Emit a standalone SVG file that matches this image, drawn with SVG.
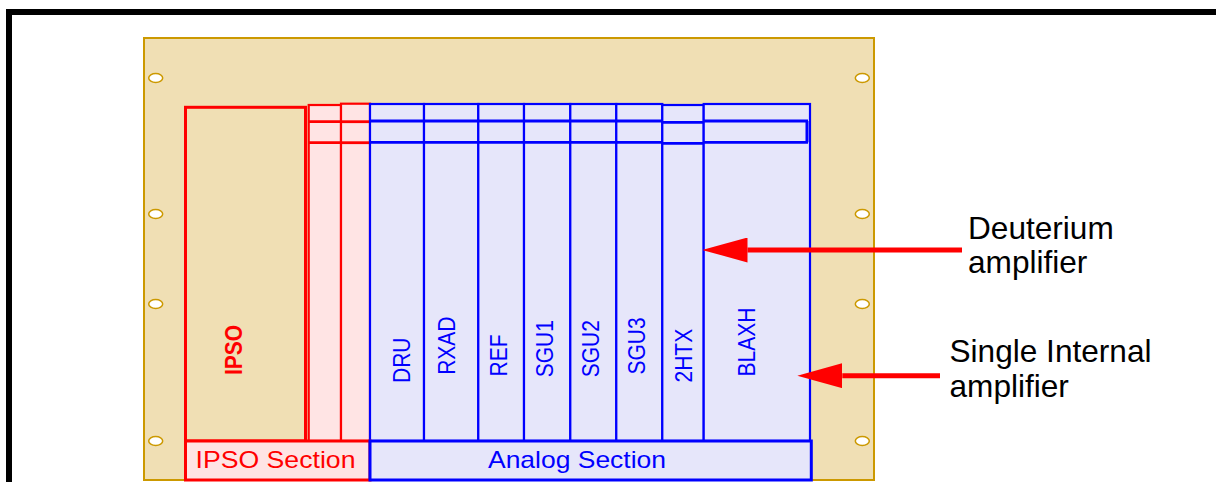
<svg xmlns="http://www.w3.org/2000/svg" width="1216" height="482" viewBox="0 0 1216 482">
<style>
.frame{fill:none;stroke:#000;stroke-width:6}
.panel{fill:#f0dfb4;stroke:#cc9900;stroke-width:2}
.hole{fill:#fff;stroke:#cc9900;stroke-width:1.5}
.rcol{fill:#ffe4e4;stroke:#ff0000;stroke-width:2.2}
.bcol{fill:#e6e6fa;stroke:#0000ff;stroke-width:2.2}
.rrow{stroke:#ff0000;stroke-width:2.8;fill:none}
.brow{stroke:#0000ff;stroke-width:2.8;fill:none}
.vlab{font-family:"Liberation Sans",Arial,sans-serif;font-size:21px;fill:#0000ff}
.slab{font-family:"Liberation Sans",Arial,sans-serif;font-size:24px}
.note{font-family:"Liberation Sans",Arial,sans-serif;font-size:31.6px;fill:#000}
.arrow{stroke:#ff0000;stroke-width:5;fill:none}
</style>
<defs>
<marker id="head" markerUnits="userSpaceOnUse" markerWidth="45" markerHeight="25" viewBox="0 0 45 25" refX="0" refY="12.5" orient="auto">
<path d="M0,0 L45,12.5 L0,25 z" fill="#ff0000"/>
</marker>
</defs>
<rect class="frame" x="9" y="12" width="1300" height="600"/>
<g id="panel">
<rect class="panel" x="144" y="38" width="730" height="442"/>
<ellipse class="hole" cx="155.7" cy="78" rx="7" ry="4.5"/>
<ellipse class="hole" cx="155.7" cy="214" rx="7" ry="4.5"/>
<ellipse class="hole" cx="155.7" cy="304" rx="7" ry="4.5"/>
<ellipse class="hole" cx="155.7" cy="441" rx="7" ry="4.5"/>
<ellipse class="hole" cx="862.3" cy="78" rx="7" ry="4.5"/>
<ellipse class="hole" cx="862.3" cy="214" rx="7" ry="4.5"/>
<ellipse class="hole" cx="862.3" cy="304" rx="7" ry="4.5"/>
<ellipse class="hole" cx="862.3" cy="441" rx="7" ry="4.5"/>
</g>
<g id="ipso">
<rect x="185.5" y="107.3" width="120" height="333.7" fill="none" stroke="#ff0000" stroke-width="3"/>
<text transform="translate(242.3,375) rotate(-90) scale(1,1.1)" style="font-family:'Liberation Sans',Arial,sans-serif;font-size:21px;font-weight:bold;fill:#ff0000">IPSO</text>
</g>
<g id="red-slot-1">
<rect class="rcol" x="308.7" y="105" width="32.3" height="336"/>
<line class="rrow" x1="308.7" y1="121.7" x2="341" y2="121.7"/>
<line class="rrow" x1="308.7" y1="142.7" x2="341" y2="142.7"/>
</g>
<g id="red-slot-2">
<rect class="rcol" x="341" y="103.7" width="29" height="337.3"/>
<line class="rrow" x1="341" y1="121.7" x2="370" y2="121.7"/>
<line class="rrow" x1="341" y1="142.7" x2="370" y2="142.7"/>
</g>
<g id="dru">
<rect class="bcol" x="370" y="104" width="54" height="337"/>
<text class="vlab" transform="translate(410,383) rotate(-90) scale(1,1.1)">DRU</text>
</g>
<g id="rxad">
<rect class="bcol" x="424" y="104" width="54.3" height="337"/>
<text class="vlab" transform="translate(455,374.8) rotate(-90) scale(1,1.1)">RXAD</text>
</g>
<g id="ref">
<rect class="bcol" x="478.3" y="104" width="45.7" height="337"/>
<text class="vlab" transform="translate(506.7,376.5) rotate(-90) scale(1,1.1)">REF</text>
</g>
<g id="sgu1">
<rect class="bcol" x="524" y="104" width="46.3" height="337"/>
<text class="vlab" transform="translate(553,377.3) rotate(-90) scale(1,1.1)">SGU1</text>
</g>
<g id="sgu2">
<rect class="bcol" x="570.3" y="104" width="46" height="337"/>
<text class="vlab" transform="translate(599,377.3) rotate(-90) scale(1,1.1)">SGU2</text>
</g>
<g id="sgu3">
<rect class="bcol" x="616.3" y="104" width="46" height="337"/>
<text class="vlab" transform="translate(645,374.6) rotate(-90) scale(1,1.1)">SGU3</text>
</g>
<g id="htx2">
<rect class="bcol" x="662.3" y="105" width="41.4" height="336" stroke-width="3"/>
<text class="vlab" transform="translate(691.7,382.5) rotate(-90) scale(1,1.1)">2HTX</text>
</g>
<g id="blaxh">
<rect class="bcol" x="703.7" y="104" width="106.3" height="337"/>
<text class="vlab" transform="translate(755,376.5) rotate(-90) scale(1,1.1)">BLAXH</text>
</g>
<g id="blue-rows">
<line class="brow" x1="370" y1="121" x2="662.3" y2="121"/>
<line class="brow" x1="370" y1="142.3" x2="662.3" y2="142.3"/>
<line class="brow" x1="662.3" y1="122.3" x2="703.7" y2="122.3"/>
<line class="brow" x1="662.3" y1="143.3" x2="703.7" y2="143.3"/>
<line class="brow" x1="703.7" y1="121" x2="808" y2="121"/>
<line class="brow" x1="703.7" y1="142.3" x2="808" y2="142.3"/>
<line x1="807" y1="121" x2="807" y2="142.3" stroke="#0000ff" stroke-width="3"/>
</g>
<g id="ipso-section">
<rect x="185.5" y="441" width="184.5" height="39" fill="#ffe4e4" stroke="#ff0000" stroke-width="3"/>
<text class="slab" x="195.5" y="468.3" fill="#ff0000" textLength="160" lengthAdjust="spacingAndGlyphs">IPSO Section</text>
</g>
<g id="analog-section">
<rect x="370" y="441" width="441.3" height="39" fill="#e6e6fa" stroke="#0000ff" stroke-width="3"/>
<text class="slab" x="488" y="468.3" fill="#0000ff" textLength="178" lengthAdjust="spacingAndGlyphs">Analog Section</text>
</g>
<g id="deuterium-label">
<text class="note" x="968" y="239">Deuterium</text>
<text class="note" x="968" y="273">amplifier</text>
</g>
<g id="single-label">
<text class="note" x="949.5" y="362.3">Single Internal</text>
<text class="note" x="949.5" y="396.7">amplifier</text>
</g>
<g id="connectors">
<line class="arrow" x1="962" y1="250" x2="747.5" y2="250" marker-end="url(#head)"/>
<line class="arrow" x1="940" y1="375.7" x2="842.3" y2="375.7" marker-end="url(#head)"/>
</g>
</svg>
